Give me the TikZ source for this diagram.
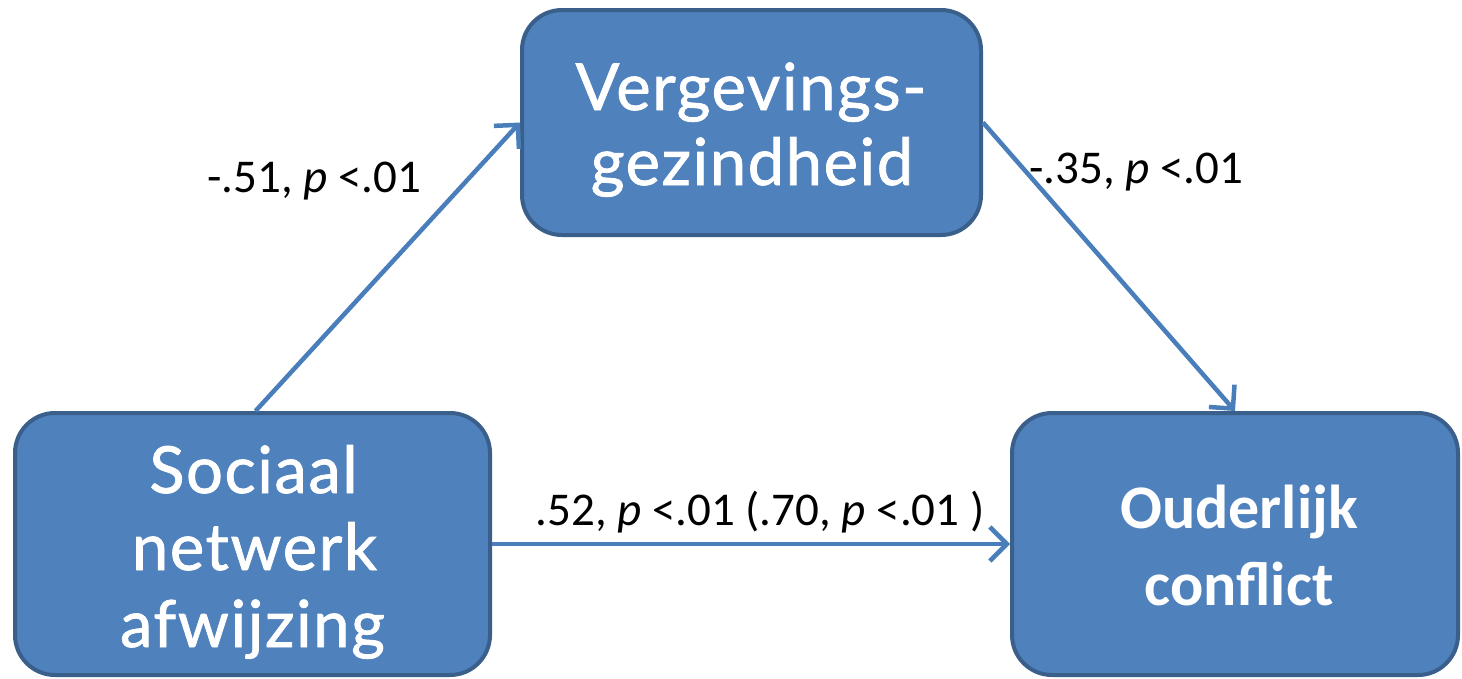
\documentclass[tikz,border=0pt]{standalone}
\usepackage{fontspec}
\setmainfont{Carlito}
\newfontfamily\boxfont[FakeBold=1.2, LetterSpace=2.5]{Lato}
\usetikzlibrary{arrows.meta}
\definecolor{boxfill}{HTML}{4F81BD}
\definecolor{boxline}{HTML}{3A5F8B}
\definecolor{arrowc}{HTML}{4A7EBB}
\tikzset{
  varbox/.style={draw=boxline, fill=boxfill, line width=4pt, rounded corners=40pt, inner sep=0pt},
  boxtxt/.style={anchor=base, text=white, inner sep=0pt, font=\boxfont\fontsize{65}{75}\selectfont},
  boldtxt/.style={anchor=base, text=white, inner sep=0pt, font=\bfseries\fontsize{62}{75}\selectfont},
  coef/.style={anchor=base, inner sep=0pt, font=\fontsize{47}{56}\selectfont},
  path arrow/.style={draw=arrowc, line width=4.5pt, -{Straight Barb[length=17pt, width=34pt]}}
}
\begin{document}
\begin{tikzpicture}[x=1pt,y=-1pt]
\useasboundingbox (0,0) rectangle (1462,678);
% boxes
\node[varbox, minimum width=459pt, minimum height=225pt] (verg) at (751.5,122.5) {};
\node[varbox, minimum width=475pt, minimum height=262pt] (soc) at (252.5,544) {};
\node[varbox, minimum width=446pt, minimum height=262pt] (ouder) at (1235,544) {};
% box texts
\node[boxtxt] (verg1) at (751,110) {Vergevings-};
\node[boxtxt] (verg2) at (752,185) {gezindheid};
\node[boxtxt] (soc1) at (253.5,493) {Sociaal};
\node[boxtxt] (soc2) at (254.5,570) {netwerk};
\node[boxtxt] (soc3) at (252.5,647) {afwijzing};
\node[boldtxt] (ouder1) at (1239,528) {Ouderlijk};
\node[boldtxt] (ouder2) at (1239,605) {conflict};
% arrows
\draw[path arrow] ([xshift=3pt]soc.north) -- (verg.west);
\draw[path arrow] (verg.east) -- (ouder.north);
\draw[path arrow] (soc.east) -- (ouder.west);
% coefficients
\node[coef] (a) at (314.5,192) {-.51, \textit{p} <.01};
\node[coef] (b) at (1136.5,183) {-.35, \textit{p} <.01};
\node[coef] (c) at (760,525) {.52, \textit{p} <.01 (.70, \textit{p} <.01 )};
\end{tikzpicture}
\end{document}
